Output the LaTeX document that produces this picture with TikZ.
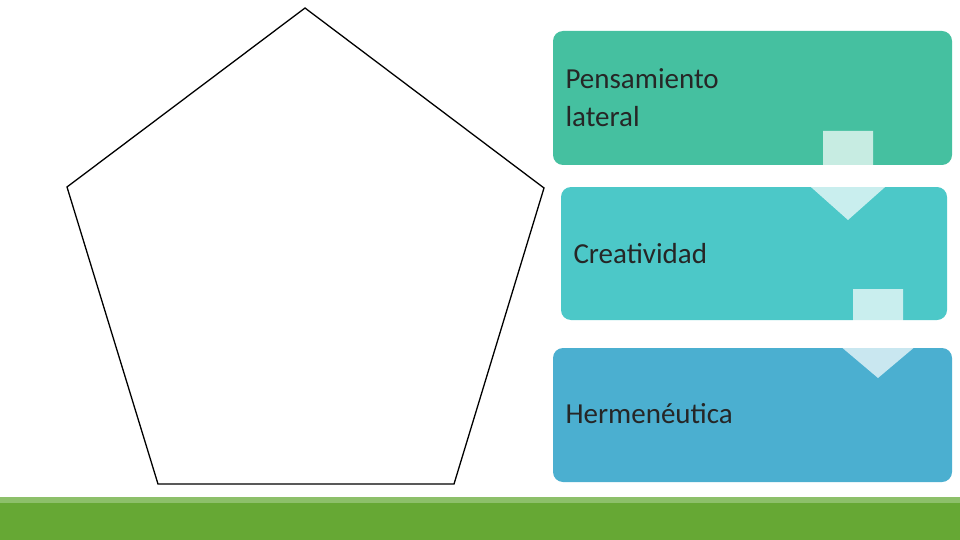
\documentclass[tikz,border=0pt]{standalone}
\usepackage{fontspec}
\setmainfont{Carlito}
\definecolor{cA}{RGB}{69,192,160}
\definecolor{cB}{RGB}{76,200,200}
\definecolor{cC}{RGB}{75,175,208}
\definecolor{gMain}{RGB}{102,168,52}
\definecolor{gLight}{RGB}{141,192,106}
\begin{document}
\begin{tikzpicture}[x=1pt,y=-1pt,
  box/.style={rounded corners=10pt},
  lbl/.style={anchor=west,align=left,font=\fontsize{29}{38}\selectfont,text=black!85},
  arr/.style={fill=white,fill opacity=0.7,draw=none}]
\useasboundingbox (0,0) rectangle (960,540);
\fill[white] (0,0) rectangle (960,540);
\draw[line width=1.3pt,line join=miter] (305,8) coordinate (p1) -- (544,188) coordinate (p2) -- (454,484) coordinate (p3) -- (158,484) coordinate (p4) -- (67,187) coordinate (p5) -- cycle;
\fill[box,fill=cA] (553,31) rectangle (952,165);
\fill[box,fill=cB] (561,187) rectangle (947,320);
\fill[box,fill=cC] (553,348) rectangle (952,482);
\node[lbl] (t1) at (562,98) {Pensamiento\\lateral};
\node[lbl] (t2) at (570,254) {Creatividad};
\node[lbl] (t3) at (562,414) {Hermenéutica};
\fill[arr] (823,131) -- (873,131) -- (873,180) -- (893,180) -- (848,220) -- (803,180) -- (823,180) -- cycle;
\fill[arr] (853,289) -- (903,289) -- (903,340) -- (923,340) -- (878,378) -- (833,340) -- (853,340) -- cycle;
\fill[gMain] (0,497) rectangle (960,540);
\fill[gLight] (0,497) rectangle (960,503);
\end{tikzpicture}
\end{document}
